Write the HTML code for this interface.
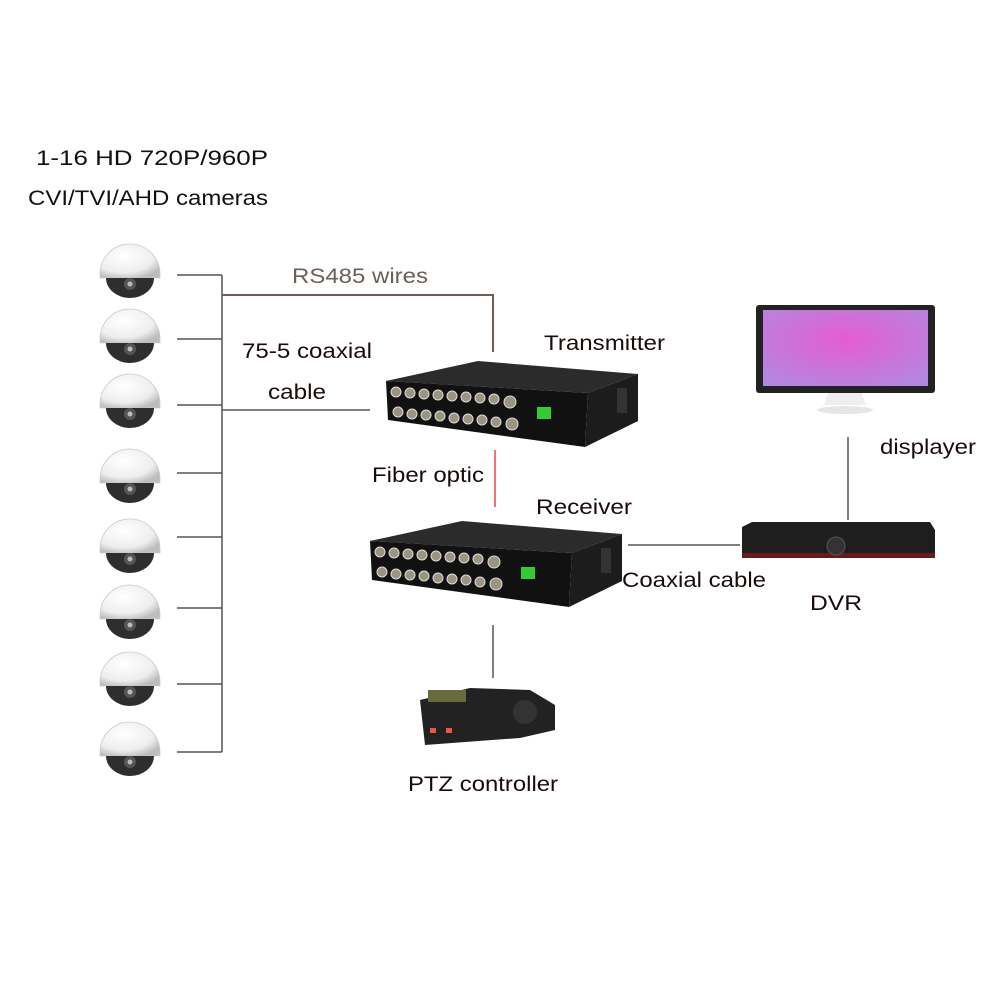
<!DOCTYPE html>
<html><head><style>
html,body{margin:0;padding:0;background:#fff;}
svg{display:block;}
text{font-family:"Liberation Sans",Arial,sans-serif;}
</style></head><body>
<svg width="1000" height="1000" viewBox="0 0 1000 1000" xmlns="http://www.w3.org/2000/svg">
<defs>
<radialGradient id="dome" cx="0.4" cy="0.35" r="0.7">
<stop offset="0" stop-color="#ffffff"/><stop offset="0.7" stop-color="#eeeeee"/><stop offset="1" stop-color="#bdbdbd"/>
</radialGradient>
<radialGradient id="scr" cx="0.5" cy="0.4" r="0.7">
<stop offset="0" stop-color="#e55cd0"/><stop offset="1" stop-color="#b387e0"/>
</radialGradient>
<g id="cam">
<path d="M-30,2 A30,30 0 0 1 30,2 L30,6 L-30,6 Z" fill="url(#dome)" stroke="#ccc" stroke-width="0.8"/>
<path d="M-24,6 A24,20 0 0 0 24,6 Z" fill="#2e2e2e"/>
<circle cx="0" cy="12" r="6" fill="#555"/>
<circle cx="0" cy="12" r="2.5" fill="#bbb"/>
</g>
<g id="box">
<polygon points="386,381 478,361 638,374 588,393" fill="#2b2b2b"/>
<polygon points="386,381 588,393 585,447 388,420" fill="#111"/>
<polygon points="588,393 638,374 638,421 585,447" fill="#1c1c1c"/>
<g fill="#9a9480" stroke="#ddd" stroke-width="1">
<circle cx="396" cy="392" r="5"/><circle cx="410" cy="393" r="5"/><circle cx="424" cy="394" r="5"/><circle cx="438" cy="395" r="5"/><circle cx="452" cy="396" r="5"/><circle cx="466" cy="397" r="5"/><circle cx="480" cy="398" r="5"/><circle cx="494" cy="399" r="5"/><circle cx="510" cy="402" r="6"/>
<circle cx="398" cy="412" r="5"/><circle cx="412" cy="414" r="5"/><circle cx="426" cy="415" r="5"/><circle cx="440" cy="416" r="5"/><circle cx="454" cy="418" r="5"/><circle cx="468" cy="419" r="5"/><circle cx="482" cy="420" r="5"/><circle cx="496" cy="422" r="5"/><circle cx="512" cy="424" r="6"/>
</g>
<rect x="537" y="407" width="14" height="12" fill="#3c3"/>
<rect x="617" y="388" width="10" height="25" fill="#333"/>
</g>
<g id="cams">
<use href="#cam" x="130" y="272"/><use href="#cam" x="130" y="337"/><use href="#cam" x="130" y="402"/>
<use href="#cam" x="130" y="477"/><use href="#cam" x="130" y="547"/><use href="#cam" x="130" y="613"/>
<use href="#cam" x="130" y="680"/><use href="#cam" x="130" y="750"/>
</g>
</defs>
<g font-size="21" fill="#1a0a0a" lengthAdjust="spacingAndGlyphs">
<text x="36" y="165" textLength="232" lengthAdjust="spacingAndGlyphs" fill="#111">1-16 HD 720P/960P</text>
<text x="28" y="205" textLength="240" lengthAdjust="spacingAndGlyphs" fill="#111">CVI/TVI/AHD cameras</text>
<text x="292" y="283" textLength="136" lengthAdjust="spacingAndGlyphs" fill="#6e5e58">RS485 wires</text>
<text x="242" y="358" textLength="130" lengthAdjust="spacingAndGlyphs">75-5 coaxial</text>
<text x="268" y="399" textLength="58" lengthAdjust="spacingAndGlyphs">cable</text>
<text x="544" y="350" textLength="121" lengthAdjust="spacingAndGlyphs">Transmitter</text>
<text x="372" y="482" textLength="112" lengthAdjust="spacingAndGlyphs">Fiber optic</text>
<text x="536" y="514" textLength="96" lengthAdjust="spacingAndGlyphs">Receiver</text>
<text x="622" y="587" textLength="144" lengthAdjust="spacingAndGlyphs">Coaxial cable</text>
<text x="810" y="610" textLength="52" lengthAdjust="spacingAndGlyphs">DVR</text>
<text x="880" y="454" textLength="96" lengthAdjust="spacingAndGlyphs">displayer</text>
<text x="408" y="791" textLength="150" lengthAdjust="spacingAndGlyphs">PTZ controller</text>
</g>
<use href="#cams"/>
<g stroke="#555" stroke-width="1.5" fill="none">
<path d="M222,275 V752"/>
<path d="M177,275H222M177,339H222M177,405H222M177,473H222M177,537H222M177,608H222M177,684H222M177,752H222"/>
<path d="M222,410H370"/>
<path d="M628,545H740"/>
<path d="M848,437V520"/>
<path d="M493,625V678"/>
</g>
<path d="M222,295H493V352" stroke="#6e5e58" stroke-width="2" fill="none"/>
<use href="#box"/>
<use href="#box" x="-16" y="160"/>
<path d="M495,450V507" stroke="#e44" stroke-width="1.5"/>
<!-- monitor -->
<rect x="756" y="305" width="179" height="88" rx="3" fill="#222"/>
<rect x="763" y="310" width="165" height="76" fill="url(#scr)"/>
<polygon points="828,393 862,393 866,405 824,405" fill="#eee"/>
<ellipse cx="845" cy="410" rx="28" ry="4" fill="#e6e6e6"/>
<!-- DVR -->
<polygon points="742,527 752,522 930,522 935,530 935,556 742,556" fill="#1e1e1e"/>
<rect x="742" y="553" width="193" height="5" fill="#6a1a1a"/>
<circle cx="836" cy="546" r="9" fill="#333" stroke="#555"/>
<!-- PTZ -->
<polygon points="420,700 470,688 530,690 555,705 555,730 520,738 425,745" fill="#222"/>
<rect x="428" y="690" width="38" height="12" fill="#6a6a40"/>
<circle cx="525" cy="712" r="12" fill="#333"/>
<rect x="430" y="728" width="6" height="5" fill="#e54"/><rect x="446" y="728" width="6" height="5" fill="#e54"/>
</svg>
</body></html>
